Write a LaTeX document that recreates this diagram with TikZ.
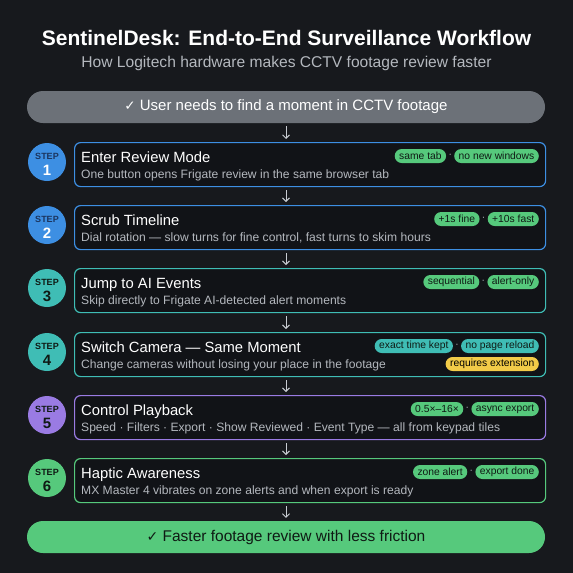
\documentclass[tikz,border=0pt]{standalone}
\usepackage{fontspec}
\setmainfont{Liberation Sans}
\newfontfamily\symfont{DejaVu Sans}
\usetikzlibrary{arrows.meta}
\definecolor{bgc}{HTML}{17191D}
\definecolor{boxfill}{HTML}{111317}
\definecolor{sblue}{HTML}{3D8FE3}
\definecolor{steal}{HTML}{3FBDB5}
\definecolor{spurple}{HTML}{9A7BE3}
\definecolor{sgreen}{HTML}{56C97C}
\definecolor{syellow}{HTML}{F2CB48}
\definecolor{pillgray}{HTML}{6C7178}
\definecolor{subgray}{HTML}{B4B8BE}
\definecolor{arrgray}{HTML}{C8CCD2}
\definecolor{darktext}{HTML}{0F1A14}
\definecolor{navy}{HTML}{1B355F}
\tikzset{
  stepbox/.style={draw, line width=1.2pt, fill=boxfill, rounded corners=6pt, minimum width=471pt, minimum height=44pt, anchor=north west, inner sep=0pt},
  circ/.style={circle, minimum size=38pt, inner sep=0pt},
  steplbl/.style={font=\fontsize{9}{10}\selectfont\bfseries, inner sep=0pt},
  stepnum/.style={font=\fontsize{15}{16}\selectfont\bfseries, inner sep=0pt},
  ttl/.style={font=\fontsize{14.8}{17}\selectfont, text=white, anchor=base west, inner sep=0pt},
  sub/.style={font=\fontsize{12.1}{14}\selectfont, text=subgray, anchor=base west, inner sep=0pt},
  tag/.style={fill=sgreen, text=darktext, rounded corners=7pt, minimum height=14pt, inner xsep=4.5pt, inner ysep=0pt, font=\fontsize{10.3}{12}\selectfont, anchor=east},
  sep/.style={text=subgray, inner xsep=2pt, inner ysep=0pt, font=\fontsize{10}{12}\selectfont, anchor=east},
  arr/.style={draw=arrgray, line width=0.9pt, -{Straight Barb[length=3.5pt,width=7pt]}, shorten <=3pt, shorten >=3pt},
  pill/.style={rounded corners=16pt, minimum width=518pt, minimum height=32pt, inner sep=0pt}
}
\newcommand\mkstep[7]{%
  \node[stepbox, draw=#3] (b#1) at (74,#2) {};
  \node[circ, fill=#3] (c#1) at (47,{#2+20}) {};
  \node[steplbl, text=#4] (sl#1) at (47,{#2+14.5}) {STEP};
  \node[stepnum, text=#5] (sn#1) at (47,{#2+28}) {#1};
  \node[ttl] (tt#1) at (81,{#2+20}) {#6};
  \node[sub] (st#1) at (81,{#2+36.5}) {#7};
}
\begin{document}
\begin{tikzpicture}[x=1pt,y=-1pt]
\fill[bgc] (0,0) rectangle (573,573);
\useasboundingbox (0,0) rectangle (573,573);
\node[font=\fontsize{21}{23}\selectfont\bfseries, text=white] (title) at (286.5,38) {SentinelDesk: End-to-End Surveillance Workflow};
\node[font=\fontsize{15.6}{18}\selectfont, text=subgray] (subtitle) at (286.5,63) {How Logitech hardware makes CCTV footage review faster};
\node[pill, fill=pillgray, text=white, font=\fontsize{15}{17}\selectfont] (start) at (286,107) {{\symfont\fontsize{13.5}{15}\selectfont ✓} User needs to find a moment in CCTV footage};
\mkstep{1}{142}{sblue}{navy}{white}{Enter Review Mode}{One button opens Frigate review in the same browser tab}
\mkstep{2}{205}{sblue}{navy}{white}{Scrub Timeline}{Dial rotation — slow turns for fine control, fast turns to skim hours}
\mkstep{3}{268}{steal}{darktext}{darktext}{Jump to AI Events}{Skip directly to Frigate AI-detected alert moments}
\mkstep{4}{332}{steal}{darktext}{darktext}{Switch Camera — Same Moment}{Change cameras without losing your place in the footage}
\mkstep{5}{395}{spurple}{darktext}{darktext}{Control Playback}{Speed · Filters · Export · Show Reviewed · Event Type — all from keypad tiles}
\mkstep{6}{458}{sgreen}{darktext}{darktext}{Haptic Awareness}{MX Master 4 vibrates on zone alerts and when export is ready}
\node[pill, fill=sgreen, text=darktext, font=\fontsize{15.5}{18}\selectfont] (end) at (286,537) {{\symfont\fontsize{14}{16}\selectfont ✓} Faster footage review with less friction};
% tags
\node[tag] (t1b) at (539,156) {no new windows};
\node[sep] (d1) at (t1b.west) {·};
\node[tag] (t1a) at (d1.west) {same tab};
\node[tag] (t2b) at (539,219) {+10s fast};
\node[sep] (d2) at (t2b.west) {·};
\node[tag] (t2a) at (d2.west) {+1s fine};
\node[tag] (t3b) at (539,282) {alert-only};
\node[sep] (d3) at (t3b.west) {·};
\node[tag] (t3a) at (d3.west) {sequential};
\node[tag, fill=steal] (t4b) at (539,346) {no page reload};
\node[sep] (d4) at (t4b.west) {·};
\node[tag, fill=steal] (t4a) at (d4.west) {exact time kept};
\node[tag, fill=syellow, text=black] (t4c) at (539,364) {requires extension};
\node[tag] (t5b) at (539,409) {async export};
\node[sep] (d5) at (t5b.west) {·};
\node[tag] (t5a) at (d5.west) {0.5×–16×};
\node[tag] (t6b) at (539,472) {export done};
\node[sep] (d6) at (t6b.west) {·};
\node[tag] (t6a) at (d6.west) {zone alert};
% arrows
\draw[arr] (start.south) -- (start.south |- b1.north);
\draw[arr] (start.south |- b1.south) -- (start.south |- b2.north);
\draw[arr] (start.south |- b2.south) -- (start.south |- b3.north);
\draw[arr] (start.south |- b3.south) -- (start.south |- b4.north);
\draw[arr] (start.south |- b4.south) -- (start.south |- b5.north);
\draw[arr] (start.south |- b5.south) -- (start.south |- b6.north);
\draw[arr] (start.south |- b6.south) -- (end.north);
\end{tikzpicture}
\end{document}
